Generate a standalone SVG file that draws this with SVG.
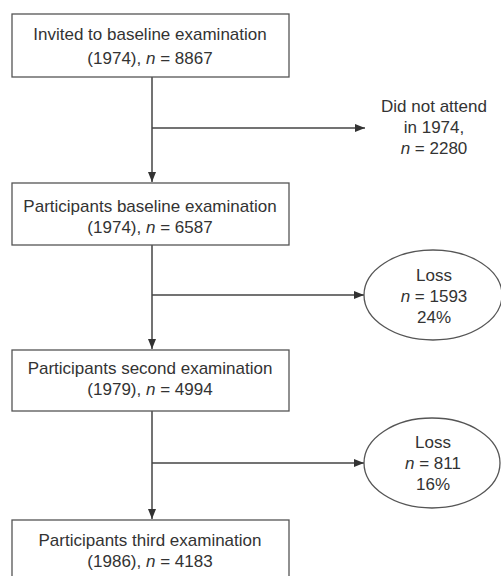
<svg xmlns="http://www.w3.org/2000/svg" width="501" height="576" viewBox="0 0 501 576">
<defs>
<style>
.box{fill:#ffffff;stroke:#555555;stroke-width:1.3}
.t{font-family:"Liberation Sans",Arial,sans-serif;font-size:17px;fill:#333333;text-anchor:middle}
.i{font-style:italic}
.ln{fill:none;stroke:#444444;stroke-width:1.5}
</style>
<marker id="ah" viewBox="0 0 10 8" refX="10" refY="4" markerWidth="10" markerHeight="8" markerUnits="userSpaceOnUse" orient="auto">
<path d="M0,0 L10,4 L0,8 Z" fill="#333333"/>
</marker>
</defs>
<rect width="501" height="576" fill="#ffffff"/>
<g id="connectors">
<line class="ln" x1="152" y1="77" x2="152" y2="182" marker-end="url(#ah)"/>
<line class="ln" x1="152" y1="128" x2="365" y2="128" marker-end="url(#ah)"/>
<line class="ln" x1="152" y1="245" x2="152" y2="349" marker-end="url(#ah)"/>
<line class="ln" x1="152" y1="295" x2="364" y2="295" marker-end="url(#ah)"/>
<line class="ln" x1="152" y1="411" x2="152" y2="519" marker-end="url(#ah)"/>
<line class="ln" x1="152" y1="463" x2="364" y2="463" marker-end="url(#ah)"/>
</g>
<g id="node-invited">
<rect class="box" x="12" y="14" width="277" height="63"/>
<text class="t" x="150" y="40">Invited to baseline examination</text>
<text class="t" x="150" y="64">(1974), <tspan class="i">n</tspan> = 8867</text>
</g>
<g id="node-notattend">
<text class="t" x="434" y="112">Did not attend</text>
<text class="t" x="434" y="133">in 1974,</text>
<text class="t" x="434" y="154"><tspan class="i">n</tspan> = 2280</text>
</g>
<g id="node-baseline">
<rect class="box" x="12" y="183" width="277" height="62"/>
<text class="t" x="150" y="212">Participants baseline examination</text>
<text class="t" x="150" y="233">(1974), <tspan class="i">n</tspan> = 6587</text>
</g>
<g id="node-loss1">
<ellipse class="box" cx="433" cy="295" rx="69" ry="45"/>
<text class="t" x="434" y="281">Loss</text>
<text class="t" x="434" y="302"><tspan class="i">n</tspan> = 1593</text>
<text class="t" x="434" y="323">24%</text>
</g>
<g id="node-second">
<rect class="box" x="12" y="350" width="277" height="61"/>
<text class="t" x="150" y="374">Participants second examination</text>
<text class="t" x="150" y="395">(1979), <tspan class="i">n</tspan> = 4994</text>
</g>
<g id="node-loss2">
<ellipse class="box" cx="432" cy="463" rx="68" ry="45"/>
<text class="t" x="433" y="448">Loss</text>
<text class="t" x="433" y="469"><tspan class="i">n</tspan> = 811</text>
<text class="t" x="433" y="490">16%</text>
</g>
<g id="node-third">
<rect class="box" x="12" y="520" width="277" height="62"/>
<text class="t" x="150" y="546">Participants third examination</text>
<text class="t" x="150" y="567">(1986), <tspan class="i">n</tspan> = 4183</text>
</g>
</svg>
